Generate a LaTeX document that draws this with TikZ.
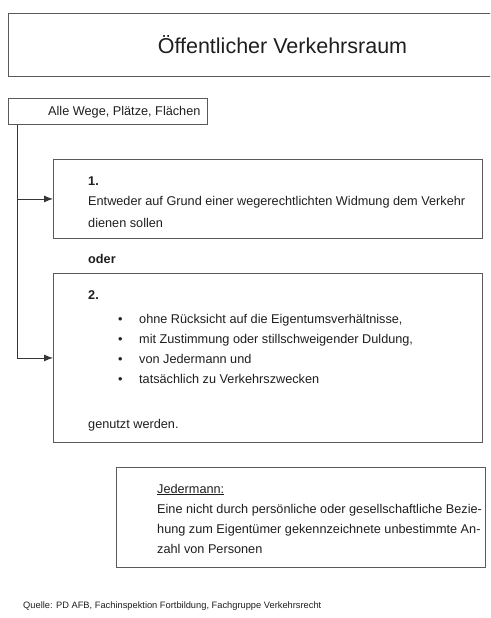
\documentclass[tikz,border=0pt]{standalone}
\usepackage{fontspec}
\setmainfont{Liberation Sans}
\usetikzlibrary{arrows.meta}
\definecolor{rahmen}{HTML}{5A5A5A}
\definecolor{schrift}{HTML}{1E1E1E}

\tikzset{
  kasten/.style={draw=rahmen, line width=0.9pt, rectangle, anchor=north west, inner sep=0pt},
  zeile/.style={anchor=base west, inner sep=0pt, text=schrift, font=\fontsize{12.7}{15}\selectfont},
  pfeil/.style={draw=rahmen!60!black, line width=0.9pt, -{Latex[length=9pt,width=7pt]}},
}

\begin{document}
\begin{tikzpicture}[x=1pt, y=-1pt]
  \useasboundingbox (0,0) rectangle (490,618);
  \clip (0,0) rectangle (490,618);
  % title (box runs off the right edge)
  \node[kasten, minimum width=548pt, minimum height=63pt, text=schrift,
        font=\fontsize{21.5}{24}\selectfont] (titel) at (8,13) {Öffentlicher Verkehrsraum};
  % start box
  \node[kasten, minimum width=199pt, minimum height=26pt] (alle) at (8,98) {};
  \node[zeile] (alletxt) at (48,115) {Alle Wege, Plätze, Flächen};
  % case 1
  \node[kasten, minimum width=429pt, minimum height=79pt] (eins) at (53,159) {};
  \node[zeile, font=\fontsize{12.7}{15}\selectfont\bfseries] (nr1) at (88,185) {1.};
  \node[zeile] (widmung1) at (88,205.5) {Entweder auf Grund einer wegerechtlichten Widmung dem Verkehr};
  \node[zeile] (widmung2) at (88,227) {dienen sollen};
  \node[zeile, font=\fontsize{12.7}{15}\selectfont\bfseries] (oder) at (88,263) {oder};
  % case 2
  \node[kasten, minimum width=429pt, minimum height=169pt] (zwei) at (53,273) {};
  \node[zeile, font=\fontsize{12.7}{15}\selectfont\bfseries] (nr2) at (88,299) {2.};
  \foreach \txt [count=\i] in {{ohne Rücksicht auf die Eigentumsverhältnisse,},
                              {mit Zustimmung oder stillschweigender Duldung,},
                              {von Jedermann und},
                              {tatsächlich zu Verkehrszwecken}}{
    \pgfmathsetmacro{\yy}{303 + 20*\i}
    \node[zeile] (punkt\i) at (118,\yy) {•};
    \node[zeile] (bed\i) at (139,\yy) {\txt};
  }
  \node[zeile] (genutzt) at (88,428) {genutzt werden.};
  % connectors
  \coordinate (abzweig) at ([xshift=9pt]alle.south west);
  \draw[pfeil] (abzweig) |- (eins.west);
  \draw[pfeil] (abzweig) |- (zwei.west);
  % definition box
  \node[kasten, minimum width=369pt, minimum height=100pt] (jeder) at (116,467) {};
  \node[zeile] (jeder0) at (157,493) {\underline{Jedermann:}};
  \node[zeile] (jeder1) at (157,513.5) {Eine nicht durch persönliche oder gesellschaftliche Bezie-};
  \node[zeile] (jeder2) at (157,533.5) {hung zum Eigentümer gekennzeichnete unbestimmte An-};
  \node[zeile] (jeder3) at (157,553.5) {zahl von Personen};
  % source
  \node[zeile, font=\fontsize{9.3}{11}\selectfont] (quelle) at (23,608) {Quelle: PD AFB, Fachinspektion Fortbildung, Fachgruppe Verkehrsrecht};
\end{tikzpicture}
\end{document}
